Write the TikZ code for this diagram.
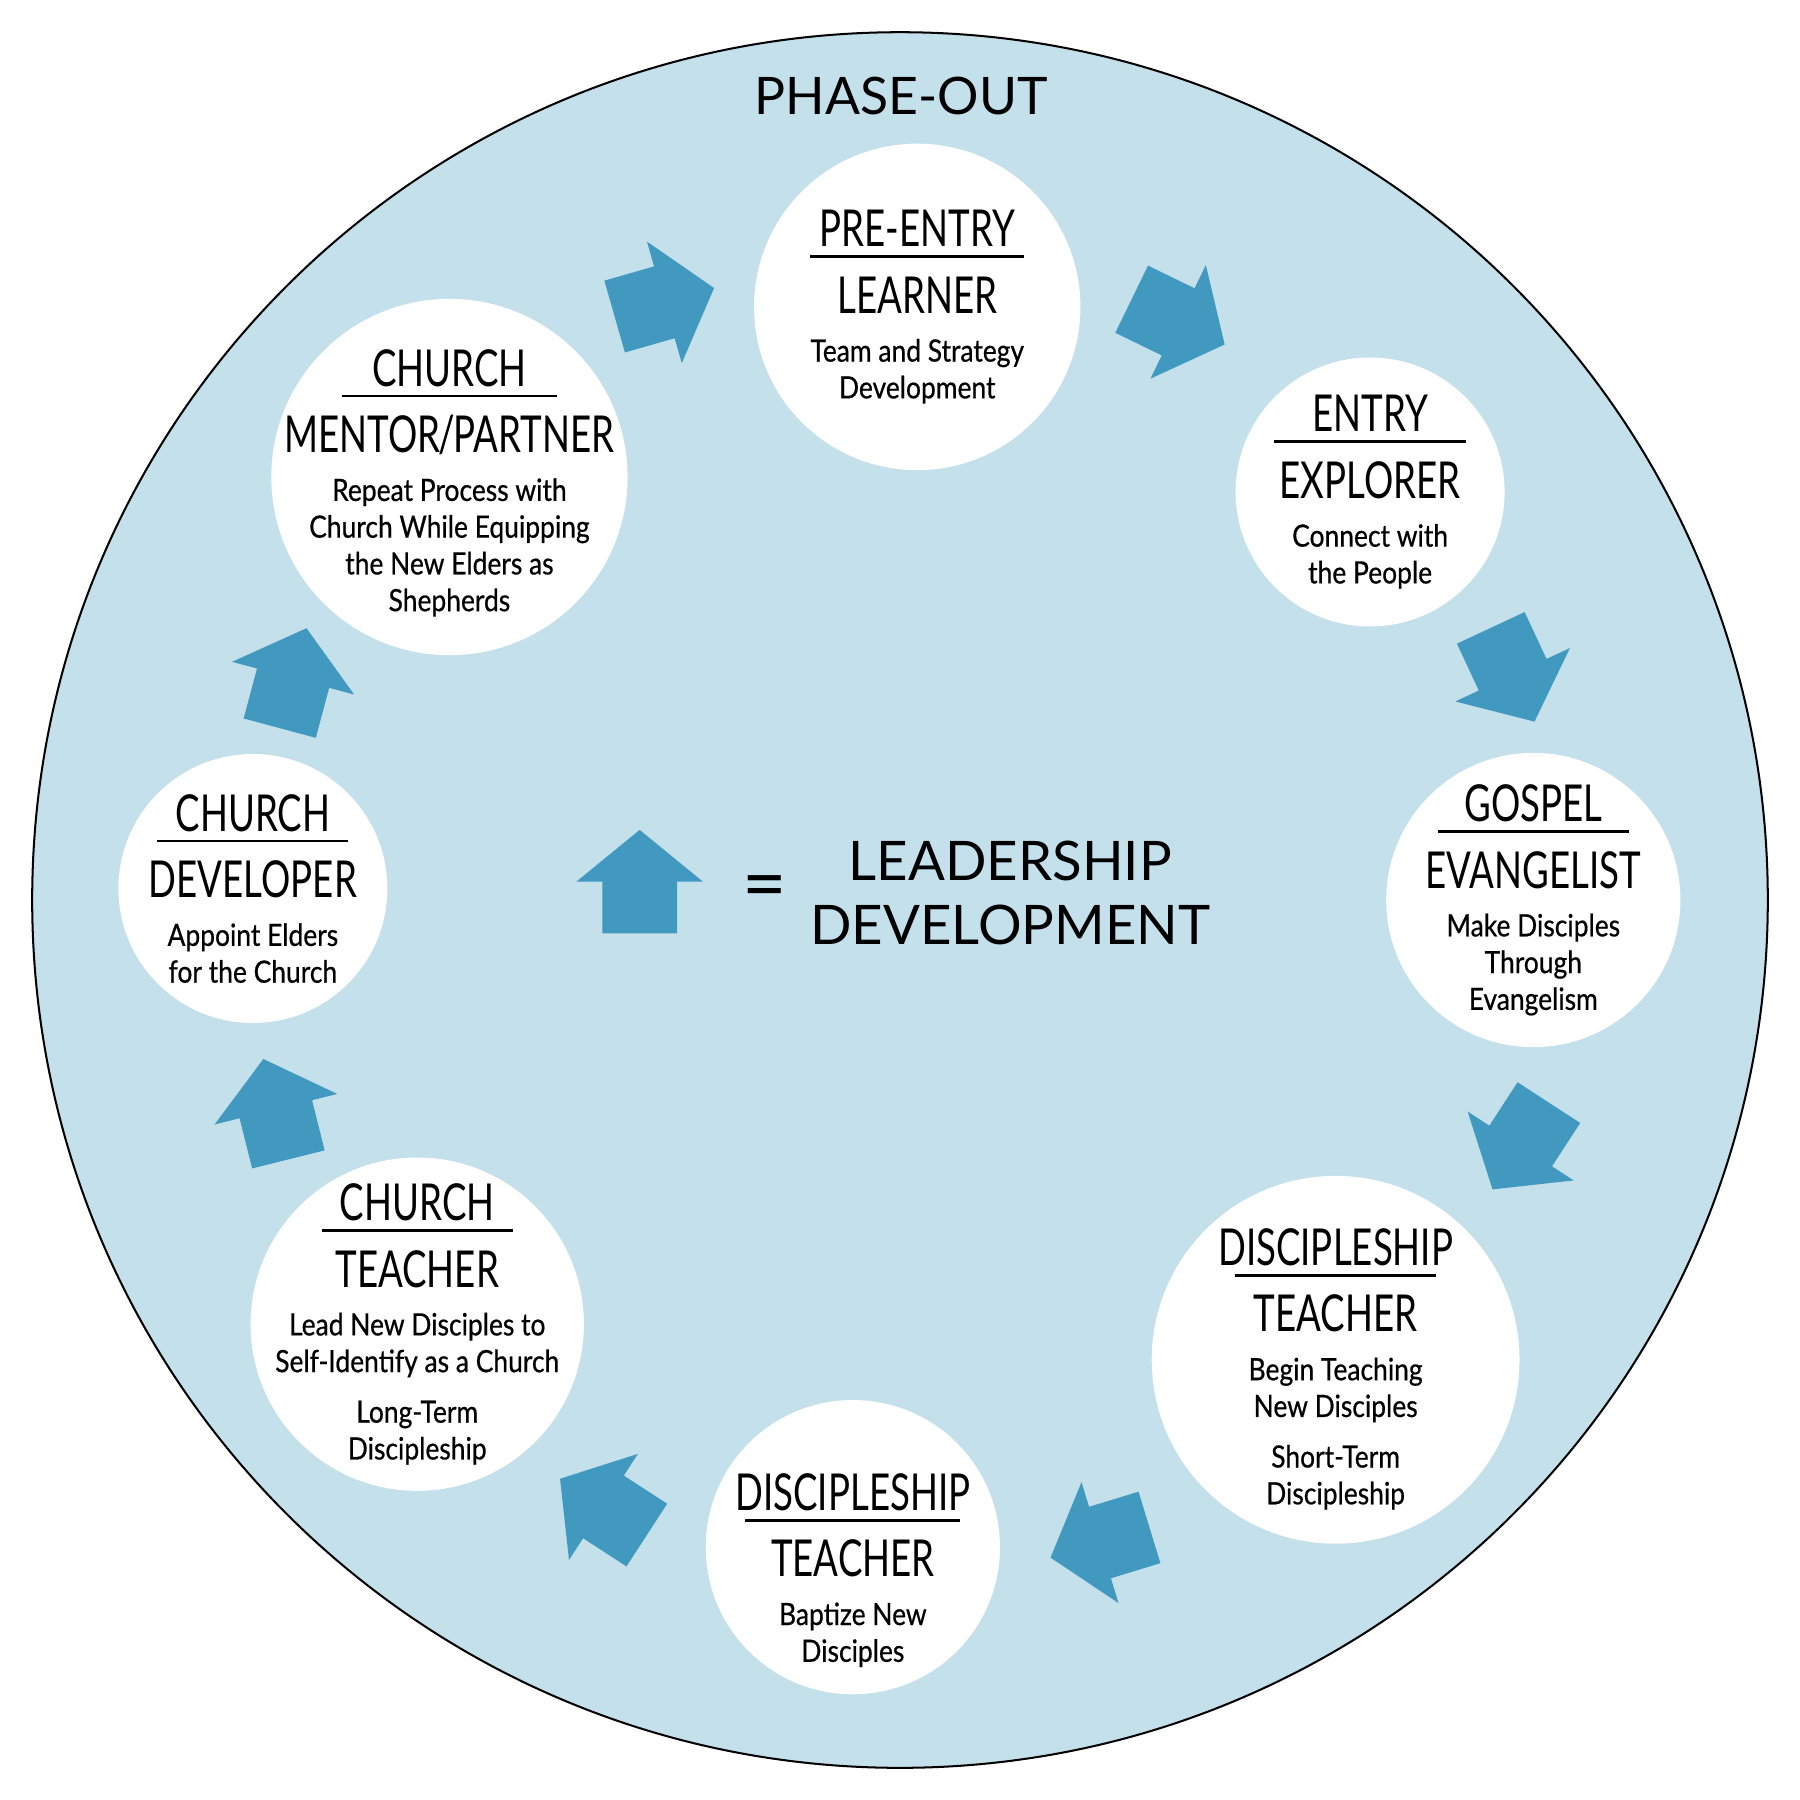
\documentclass[tikz,border=0pt]{standalone}
\usepackage{fontspec}
\setmainfont{Lato}
\newfontfamily\narrowfont{Lato}[FakeStretch=0.72]
\newfontfamily\narrowtext{Lato}[FakeStretch=0.86,FakeBold=0.6]
\newcommand{\stagehead}[1]{{\narrowfont\fontsize{12.6}{12.6}\selectfont #1}}
\newcommand{\headrule}[1]{\rule{#1}{0.025cm}}
\definecolor{phaseblue}{HTML}{C3E0EB}
\definecolor{liftblue}{HTML}{4299BF}
\begin{document}
\lineskiplimit=-100cm
\begin{tikzpicture}
\tikzstyle{stage} = [circle, fill=white, inner sep=0pt]
\tikzstyle{stagetext} = [align=center, inner sep=0pt, font=\narrowtext\fontsize{7.6}{9.1}\selectfont]
\tikzstyle{bigtext} = [font=\fontsize{13.5}{15.9}\selectfont]
\tikzset{lift/.pic={\fill[liftblue] (-0.45,-0.325) -- (0,-0.325) -- (0,-0.55) -- (0.45,0) -- (0,0.55) -- (0,0.325) -- (-0.45,0.325) -- cycle;}}
%
\useasboundingbox (0,0) rectangle (15.66,-15.66);
\filldraw[fill=phaseblue, draw=black, line width=0.5pt] (7.83,-7.83) circle (7.55);
\node[bigtext, font=\fontsize{12.8}{15}\selectfont, anchor=base] (phase) at (7.84,-1.00) {PHASE-OUT};
% stages
\foreach \n/\x/\y/\d in {pre/7.98/-2.67/2.84, entry/11.92/-4.28/2.34, gospel/13.34/-7.83/2.56,
  disc/11.62/-11.83/3.20, bapt/7.42/-13.46/2.56, teach/3.63/-11.52/2.90,
  dev/2.20/-7.73/2.34, mentor/3.91/-4.15/3.10}
  \node[stage, minimum size=\d cm] (\n) at (\x,\y) {};
%
\node[stagetext] (pre-t) at (pre) {\stagehead{PRE-ENTRY}\\[-0.22cm]\headrule{1.86cm}\\[0.16cm]\stagehead{LEARNER}\\[0.10cm]Team and Strategy\\Development};
\node[stagetext] (entry-t) at (entry) {\stagehead{ENTRY}\\[-0.22cm]\headrule{1.67cm}\\[0.16cm]\stagehead{EXPLORER}\\[0.10cm]Connect with\\the People};
\node[stagetext] (gospel-t) at (gospel) {\stagehead{GOSPEL}\\[-0.22cm]\headrule{1.66cm}\\[0.16cm]\stagehead{EVANGELIST}\\[0.10cm]Make Disciples\\Through\\Evangelism};
\node[stagetext] (disc-t) at ([yshift=-0.08cm]disc) {\stagehead{DISCIPLESHIP}\\[-0.22cm]\headrule{1.75cm}\\[0.16cm]\stagehead{TEACHER}\\[0.10cm]Begin Teaching\\New Disciples\\[0.12cm]Short-Term\\Discipleship};
\node[stagetext] (bapt-t) at ([yshift=-0.2cm]bapt) {\stagehead{DISCIPLESHIP}\\[-0.22cm]\headrule{1.87cm}\\[0.16cm]\stagehead{TEACHER}\\[0.10cm]Baptize New\\Disciples};
\node[stagetext] (teach-t) at (teach) {\stagehead{CHURCH}\\[-0.22cm]\headrule{1.66cm}\\[0.16cm]\stagehead{TEACHER}\\[0.10cm]Lead New Disciples to\\Self-Identify as a Church\\[0.12cm]Long-Term\\Discipleship};
\node[stagetext] (dev-t) at (dev) {\stagehead{CHURCH}\\[-0.22cm]\headrule{1.66cm}\\[0.16cm]\stagehead{DEVELOPER}\\[0.10cm]Appoint Elders\\for the Church};
\node[stagetext] (mentor-t) at ([yshift=-0.05cm]mentor) {\stagehead{CHURCH}\\[-0.22cm]\headrule{1.87cm}\\[0.16cm]{\narrowfont\fontsize{12.6}{12.6}\selectfont MENTOR\kern-0.4pt/\kern-0.4pt PARTNER}\\[0.10cm]Repeat Process with\\Church While Equipping\\the New Elders as\\Shepherds};
% arrows round the cycle
\pic[rotate=16] at (5.78,-2.63) {lift};
\pic[rotate=-26] at (10.25,-2.80) {lift};
\pic[rotate=-65] at (13.16,-5.87) {lift};
\pic[rotate=-123] at (13.23,-9.97) {lift};
\pic[rotate=-163] at (9.57,-13.42) {lift};
\pic[rotate=147] at (5.25,-13.11) {lift};
\pic[rotate=104] at (2.40,-9.65) {lift};
\pic[rotate=75] at (2.55,-5.90) {lift};
% legend
\pic[rotate=90] at (5.565,-7.67) {lift};
\node[bigtext, font=\fontsize{19}{19}\selectfont] (eq) at (6.65,-7.77) {=};
\node[bigtext, align=center] (lead) at (8.79,-7.77) {LEADERSHIP\\DEVELOPMENT};
\end{tikzpicture}
\end{document}
